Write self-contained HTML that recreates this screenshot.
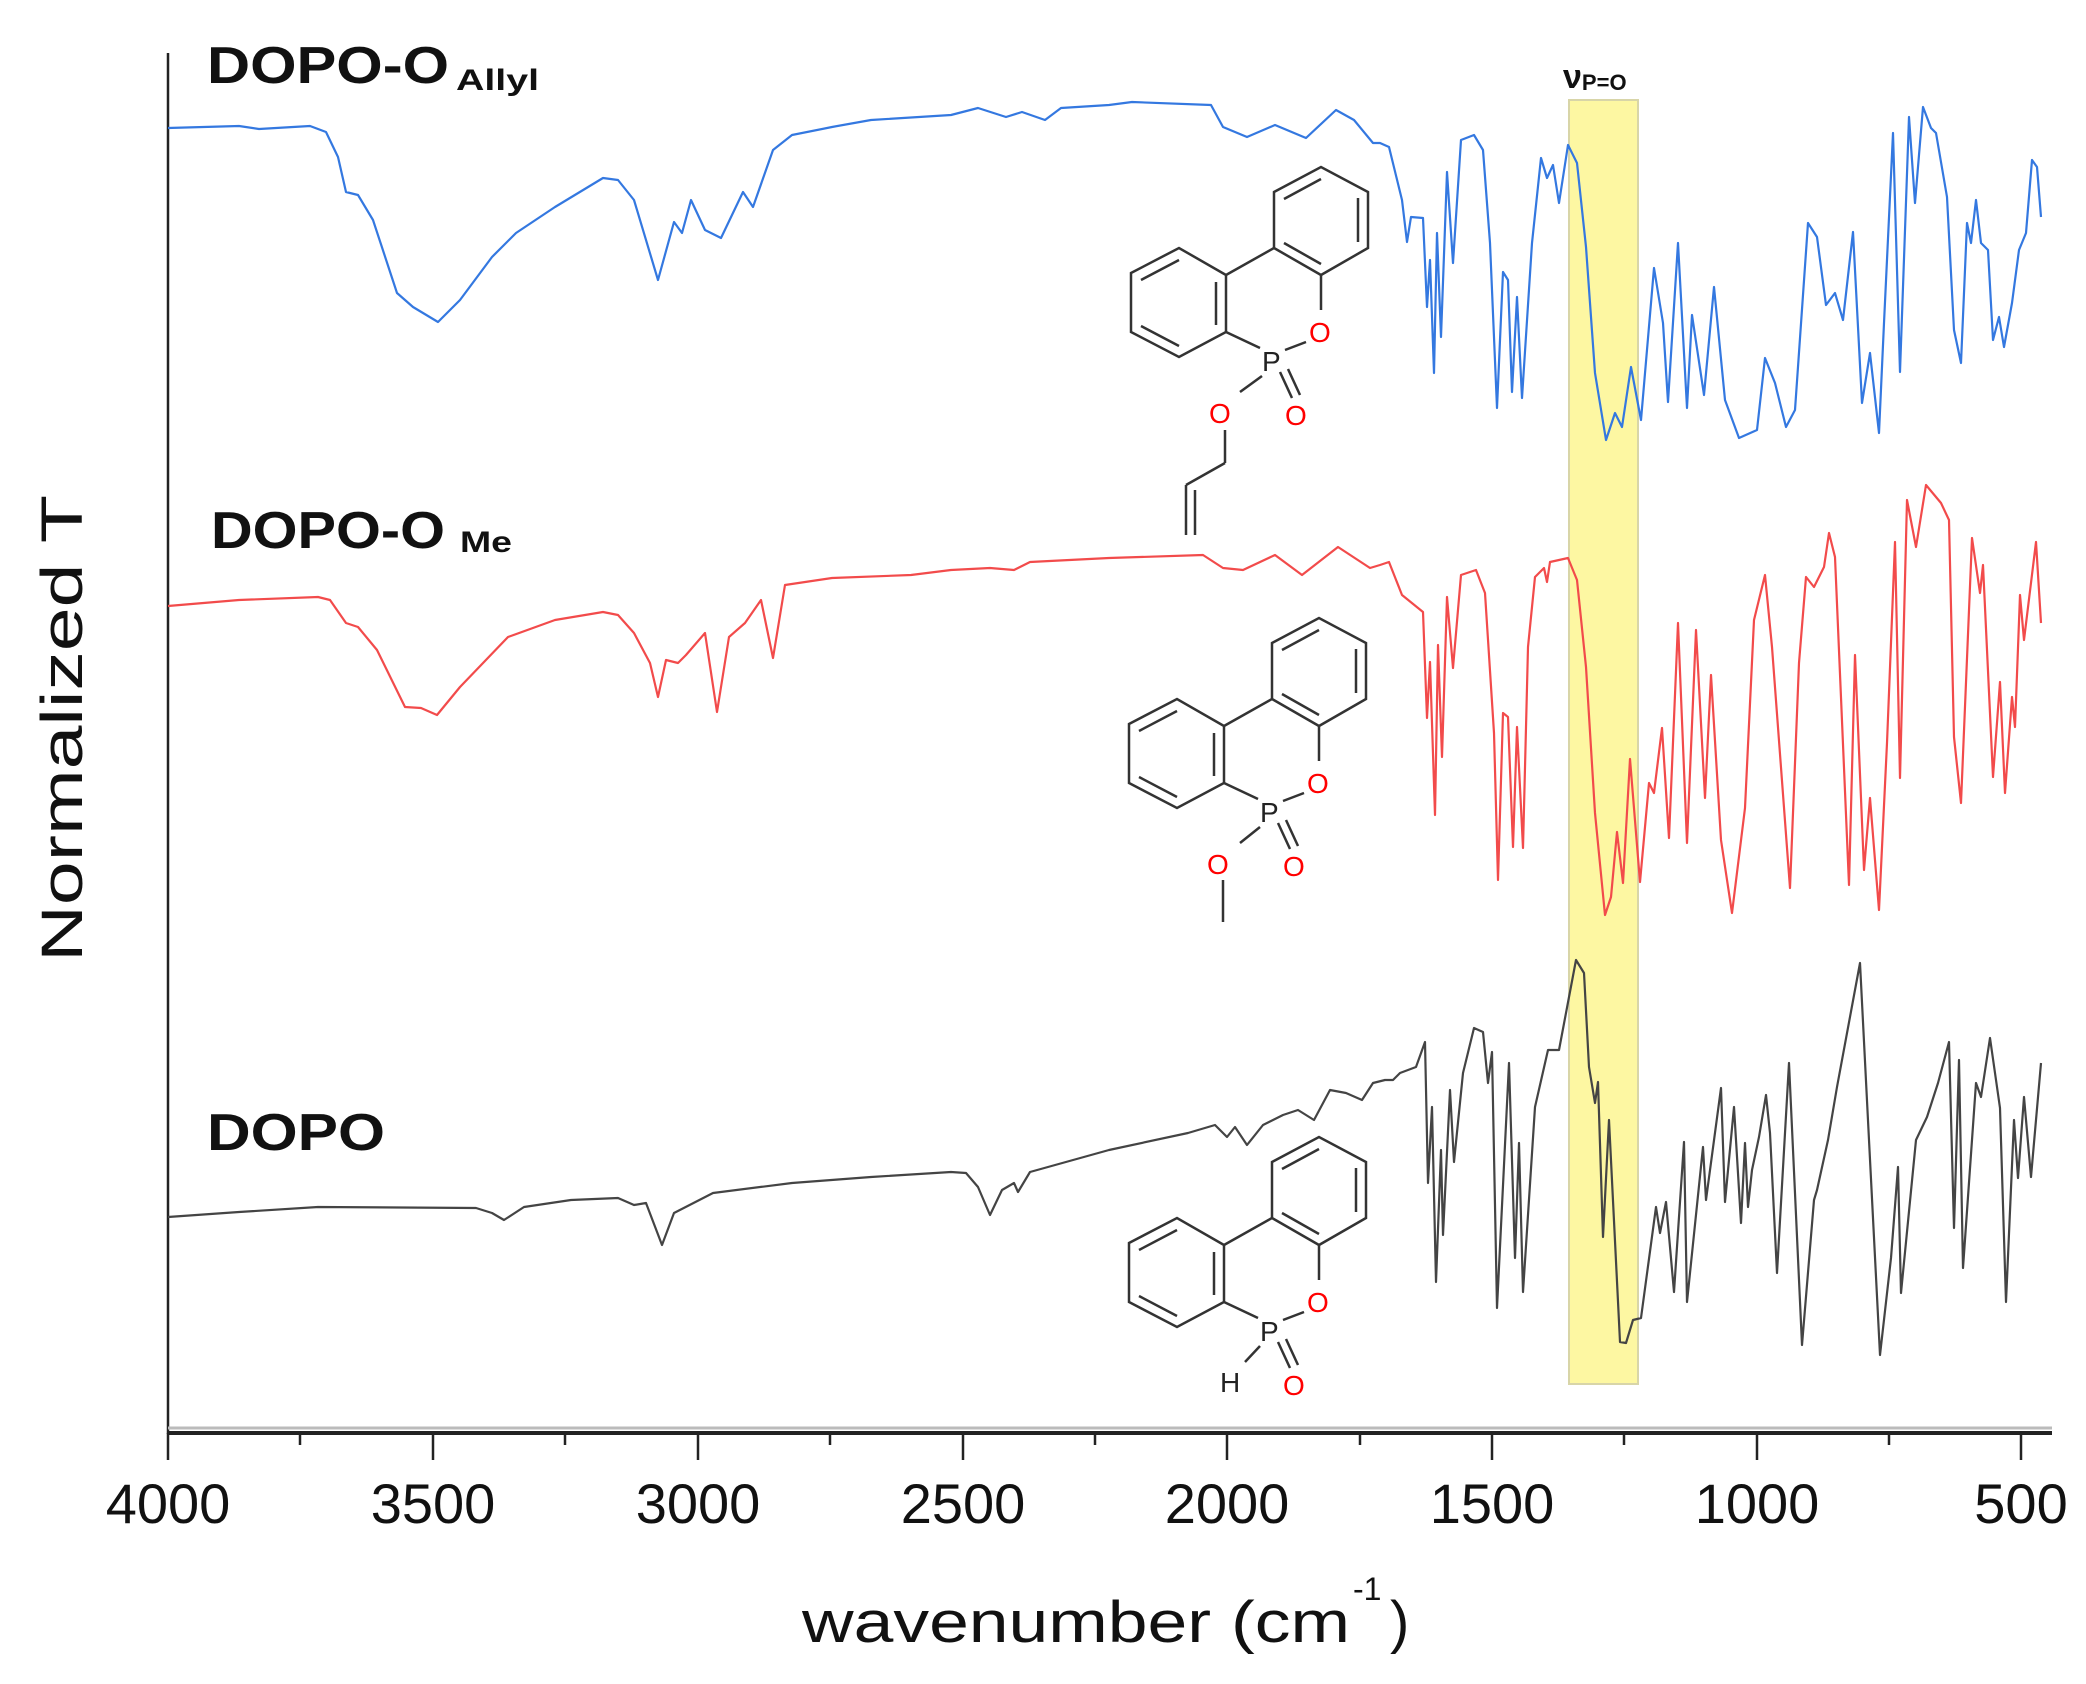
<!DOCTYPE html>
<html><head><meta charset="utf-8"><style>html,body{margin:0;padding:0;background:#fff}svg{display:block}</style></head>
<body>
<svg width="2086" height="1684" viewBox="0 0 2086 1684" xmlns="http://www.w3.org/2000/svg" font-family="Liberation Sans, Arial, sans-serif">
<rect width="2086" height="1684" fill="#fff"/>
<!-- yellow band -->
<rect x="1569" y="100" width="69" height="1284" fill="#fdf7a2" stroke="#d8d5a8" stroke-width="2"/>
<text x="1563" y="88" font-size="34" font-weight="bold" fill="#111">ν<tspan font-size="22" dy="2">P=O</tspan></text>

<!-- axes -->
<line x1="168" y1="53" x2="168" y2="1434" stroke="#222" stroke-width="2.5"/>
<line x1="168" y1="1428" x2="2052" y2="1428" stroke="#bbb" stroke-width="3"/>
<line x1="168" y1="1433" x2="2052" y2="1433" stroke="#222" stroke-width="4"/>
<g stroke="#222" stroke-width="2.5">
<line x1="168" y1="1433" x2="168" y2="1460"/><line x1="433" y1="1433" x2="433" y2="1460"/><line x1="698" y1="1433" x2="698" y2="1460"/><line x1="963" y1="1433" x2="963" y2="1460"/><line x1="1227" y1="1433" x2="1227" y2="1460"/><line x1="1492" y1="1433" x2="1492" y2="1460"/><line x1="1757" y1="1433" x2="1757" y2="1460"/><line x1="2021" y1="1433" x2="2021" y2="1460"/>
<line x1="300" y1="1433" x2="300" y2="1445"/><line x1="565" y1="1433" x2="565" y2="1445"/><line x1="830" y1="1433" x2="830" y2="1445"/><line x1="1095" y1="1433" x2="1095" y2="1445"/><line x1="1360" y1="1433" x2="1360" y2="1445"/><line x1="1624" y1="1433" x2="1624" y2="1445"/><line x1="1889" y1="1433" x2="1889" y2="1445"/>
</g>
<g font-size="56" fill="#111" text-anchor="middle">
<text x="168" y="1523">4000</text><text x="433" y="1523">3500</text><text x="698" y="1523">3000</text><text x="963" y="1523">2500</text><text x="1227" y="1523">2000</text><text x="1492" y="1523">1500</text><text x="1757" y="1523">1000</text><text x="2021" y="1523">500</text>
</g>
<text x="802" y="1642" font-size="58" fill="#111" textLength="548" lengthAdjust="spacingAndGlyphs">wavenumber (cm</text>
<text x="1353" y="1600" font-size="32" fill="#111">-1</text>
<text x="1390" y="1642" font-size="58" fill="#111">)</text>
<text transform="translate(82,962) rotate(-90)" font-size="58" fill="#111" textLength="467" lengthAdjust="spacingAndGlyphs">Normalized T</text>

<!-- labels -->
<text x="207" y="83" font-size="52" font-weight="bold" fill="#111" textLength="242" lengthAdjust="spacingAndGlyphs">DOPO-O</text>
<text x="456" y="90" font-size="30" font-weight="bold" fill="#111" textLength="83" lengthAdjust="spacingAndGlyphs">Allyl</text>
<text x="211" y="548" font-size="52" font-weight="bold" fill="#111" textLength="234" lengthAdjust="spacingAndGlyphs">DOPO-O</text>
<text x="460" y="552" font-size="30" font-weight="bold" fill="#111" textLength="52" lengthAdjust="spacingAndGlyphs">Me</text>
<text x="207" y="1150" font-size="52" font-weight="bold" fill="#111" textLength="178" lengthAdjust="spacingAndGlyphs">DOPO</text>

<!-- spectra -->
<g fill="none" stroke-width="2.2" stroke-linejoin="round">
<polyline stroke="#3478e0" points="168,128 239,126 259,129 310,126 326,132 338,157 346,192 358,195 373,220 397,293 413,307 438,322 460,300 492,257 516,233 555,207 603,178 618,180 634,200 658,280 674,222 682,233 691,200 705,230 721,238 743,192 753,207 773,150 792,135 832,127 871,120 951,115 978,108 1006,117 1022,112 1045,120 1061,108 1109,105 1132,102 1211,105 1223,127 1247,137 1275,125 1306,138 1336,110 1354,120 1373,143 1380,143 1389,147 1402,200 1407,242 1411,217 1423,218 1427,307 1430,260 1434,373 1437,233 1441,337 1447,172 1453,263 1461,140 1474,135 1483,150 1490,243 1497,408 1503,272 1508,280 1512,392 1517,297 1522,398 1532,243 1541,158 1547,178 1553,165 1559,203 1568,145 1577,163 1586,247 1595,373 1606,440 1615,413 1622,427 1631,367 1641,420 1654,268 1663,323 1668,402 1678,243 1687,408 1692,315 1704,395 1714,287 1725,400 1739,438 1757,430 1765,358 1775,383 1786,427 1795,410 1808,223 1817,237 1826,305 1835,293 1843,320 1853,232 1862,403 1870,353 1879,433 1884,323 1893,133 1900,372 1909,117 1915,203 1923,107 1931,128 1936,133 1947,197 1954,330 1961,363 1967,223 1971,243 1976,200 1981,243 1988,250 1993,340 1999,317 2004,347 2012,303 2019,250 2026,233 2032,160 2037,167 2041,217"/>
<polyline stroke="#f24b4b" points="168,606 239,600 318,597 330,600 346,623 358,627 377,650 405,707 421,708 437,715 460,687 508,637 555,620 603,612 618,615 634,633 650,663 658,697 666,660 678,663 686,655 705,633 717,712 729,637 745,623 761,600 773,658 785,585 832,578 911,575 951,570 990,568 1014,570 1030,562 1109,558 1203,555 1223,568 1243,570 1275,555 1302,575 1338,547 1370,568 1380,565 1389,562 1402,595 1423,612 1427,718 1430,662 1435,815 1438,645 1442,757 1447,597 1453,668 1461,575 1476,570 1485,593 1494,733 1498,880 1503,713 1508,717 1513,847 1517,727 1523,848 1528,647 1535,577 1544,568 1547,582 1550,562 1568,558 1577,580 1586,667 1595,813 1605,915 1611,897 1617,832 1623,883 1630,759 1640,882 1649,783 1654,793 1662,728 1669,838 1678,623 1687,843 1696,630 1705,798 1711,675 1721,840 1732,913 1745,808 1754,620 1765,575 1772,647 1790,888 1799,663 1806,577 1814,587 1824,567 1829,533 1835,557 1849,885 1855,655 1864,870 1870,798 1879,910 1887,743 1895,542 1900,778 1907,500 1916,547 1926,485 1941,503 1949,520 1954,737 1961,803 1972,538 1980,593 1983,565 1993,777 2000,682 2005,793 2012,697 2015,727 2020,595 2024,640 2036,542 2041,623"/>
<polyline stroke="#444" points="168,1217 239,1212 318,1207 476,1208 492,1213 504,1220 524,1207 571,1200 618,1198 634,1205 646,1203 662,1245 674,1213 713,1193 792,1183 871,1177 951,1172 966,1173 978,1187 990,1215 1002,1190 1014,1183 1018,1192 1030,1172 1109,1150 1188,1133 1215,1125 1227,1137 1235,1127 1247,1145 1263,1125 1283,1115 1298,1110 1314,1120 1330,1090 1346,1093 1362,1100 1373,1083 1385,1080 1393,1080 1400,1073 1416,1067 1425,1042 1428,1183 1432,1107 1436,1282 1441,1150 1443,1235 1450,1090 1454,1162 1463,1073 1474,1028 1483,1032 1488,1083 1492,1052 1497,1308 1509,1063 1515,1258 1519,1143 1523,1292 1535,1107 1548,1050 1559,1050 1576,960 1584,973 1589,1067 1595,1103 1598,1082 1603,1237 1609,1120 1620,1342 1626,1343 1633,1320 1641,1318 1656,1207 1660,1233 1666,1202 1674,1292 1684,1142 1687,1302 1703,1147 1706,1200 1721,1088 1725,1202 1734,1107 1741,1223 1745,1143 1748,1207 1752,1170 1759,1137 1766,1095 1770,1133 1777,1273 1789,1063 1802,1345 1814,1200 1817,1190 1828,1140 1837,1087 1860,963 1869,1140 1880,1355 1891,1258 1898,1167 1901,1293 1916,1140 1927,1117 1938,1083 1949,1042 1954,1228 1959,1060 1963,1268 1976,1083 1981,1097 1990,1038 2000,1108 2006,1302 2014,1120 2018,1178 2024,1097 2031,1177 2041,1063"/>
</g>

<!-- molecule core -->
<defs>
<g id="core" fill="none" stroke="#333" stroke-width="2.5">
<polygon points="1131,273 1179,248 1226,275 1226,332 1179,357 1131,332"/>
<line x1="1141" y1="280" x2="1179" y2="260"/><line x1="1216" y1="282" x2="1216" y2="325"/><line x1="1141" y1="326" x2="1179" y2="346"/>
<polygon points="1274,192 1321,167 1368,192 1368,248 1321,275 1274,248"/>
<line x1="1284" y1="199" x2="1321" y2="179"/><line x1="1358" y1="198" x2="1358" y2="242"/><line x1="1284" y1="243" x2="1321" y2="264"/>
<line x1="1226" y1="275" x2="1274" y2="248"/>
<line x1="1321" y1="275" x2="1321" y2="310"/>
<line x1="1226" y1="332" x2="1260" y2="348"/>
<line x1="1285" y1="350" x2="1306" y2="342"/>
<line x1="1280" y1="372" x2="1292" y2="398"/><line x1="1288" y1="369" x2="1300" y2="395"/>
<text x="1262" y="371" font-size="28" fill="#222" stroke="none">P</text>
<text x="1309" y="342" font-size="28" fill="#f00" stroke="none">O</text>
<text x="1285" y="425" font-size="28" fill="#f00" stroke="none">O</text>
</g>
</defs>
<use href="#core"/>
<use href="#core" transform="translate(-2,451)"/>
<use href="#core" transform="translate(-2,970)"/>
<!-- allyl tail -->
<g fill="none" stroke="#333" stroke-width="2.5">
<line x1="1262" y1="376" x2="1240" y2="392"/>
<line x1="1225" y1="430" x2="1225" y2="463"/><line x1="1225" y1="463" x2="1186" y2="485"/>
<line x1="1186" y1="485" x2="1186" y2="535"/><line x1="1195" y1="490" x2="1195" y2="535"/>
<!-- methoxy -->
<line x1="1260" y1="827" x2="1240" y2="843"/>
<line x1="1223" y1="880" x2="1223" y2="922"/>
<!-- H -->
<line x1="1260" y1="1346" x2="1245" y2="1362"/>
</g>
<text x="1209" y="423" font-size="28" fill="#f00">O</text>
<text x="1207" y="874" font-size="28" fill="#f00">O</text>
<text x="1220" y="1392" font-size="28" fill="#222">H</text>
</svg>
</body></html>
